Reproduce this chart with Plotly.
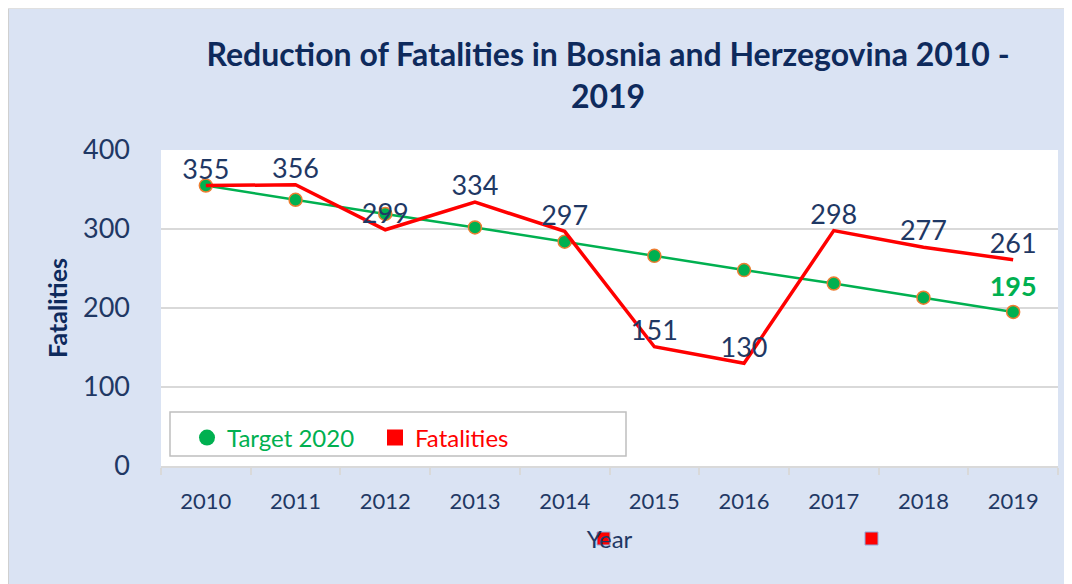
import plotly.graph_objects as go

years = ["2010", "2011", "2012", "2013", "2014", "2015", "2016", "2017", "2018", "2019"]
fatalities = [355, 356, 299, 334, 297, 151, 130, 298, 277, 261]
target_2020 = [355, 337, 319, 302, 284, 266, 248, 231, 213, 195]
y_ticks = [0, 100, 200, 300, 400]

# the page body has an 8px margin, so the figure is drawn 8px in from the window edge
OFF = 8
WIN_W, WIN_H = 1072, 584
W, H = WIN_W - OFF, WIN_H - OFF
PL, PR, PT, PB = 161, 1058, 150, 466          # plot area edges in window pixels
ML, MR, MT, MB = PL - OFF, WIN_W - PR, PT - OFF, WIN_H - PB
PW, PH = PR - PL, PB - PT

def px(x):
    return (x - PL) / PW

def py(y):
    return (PB - y) / PH

NAVY = "#1F3864"
TITLE_NAVY = "#0E2A5C"
GREEN = "#00B050"
RED = "#FF0000"
FONT = "Lato"

fig = go.Figure()

fig.add_trace(go.Scatter(
    x=years, y=target_2020, mode="lines+markers+text",
    line=dict(color=GREEN, width=2.5),
    marker=dict(color=GREEN, size=13, line=dict(color="#ED7D31", width=1.5)),
    text=[""] * (len(years) - 1) + [str(target_2020[-1])],
    textposition="top center",
    textfont=dict(family=FONT, size=27, color=GREEN, weight="bold"),
    showlegend=False, cliponaxis=False,
))
fig.add_trace(go.Scatter(
    x=years, y=fatalities, mode="lines+text",
    line=dict(color=RED, width=3.5),
    text=[str(v) for v in fatalities],
    textposition="top center",
    textfont=dict(family=FONT, size=27, color=NAVY),
    showlegend=False, cliponaxis=False,
))
# legend entries
fig.add_trace(go.Scatter(
    x=[None], y=[None], mode="markers",
    marker=dict(color=GREEN, size=20, symbol="circle"),
    name="<span style='color:%s'>Target 2020</span>" % GREEN,
))
fig.add_trace(go.Scatter(
    x=[None], y=[None], mode="markers",
    marker=dict(color=RED, size=18, symbol="square"),
    name="<span style='color:%s'>Fatalities</span>" % RED,
))

shapes = [
    # outer chart border
    dict(type="line", xref="paper", yref="paper", x0=px(OFF), x1=px(OFF), y0=py(OFF), y1=py(WIN_H + 5),
         line=dict(color="#D0D0D0", width=2)),
    dict(type="line", xref="paper", yref="paper", x0=px(OFF), x1=px(WIN_W + 5), y0=py(OFF), y1=py(OFF),
         line=dict(color="#E0E0E0", width=2)),
    # legend box
    dict(type="rect", xref="paper", yref="paper", x0=px(170), x1=px(626), y0=py(456), y1=py(412),
         fillcolor="white", line=dict(color="#BFBFBF", width=1.5), layer="above"),
    # stray markers
    dict(type="rect", xref="paper", yref="paper", x0=px(597), x1=px(610), y0=py(545), y1=py(532),
         fillcolor=RED, line=dict(color="#8FAADC", width=1)),
    dict(type="rect", xref="paper", yref="paper", x0=px(865), x1=px(878), y0=py(545), y1=py(532),
         fillcolor=RED, line=dict(color="#8FAADC", width=1)),
]

fig.update_layout(
    width=W, height=H,
    margin=dict(l=ML, r=MR, t=MT, b=MB),
    paper_bgcolor="#DAE3F3", plot_bgcolor="white",
    font=dict(family=FONT, color=NAVY),
    title=dict(
        text="Reduction of Fatalities in Bosnia and Herzegovina 2010 -<br>2019",
        x=(608 - OFF) / W, xanchor="center", y=1 - (66 - OFF) / H, yanchor="middle",
        font=dict(family=FONT, size=32, color=TITLE_NAVY, weight="bold"),
    ),
    xaxis=dict(
        type="category", range=[-0.5, len(years) - 0.5],
        showgrid=False, showline=True, linecolor="#D9D9D9", linewidth=1.5,
        ticks="outside", tickson="boundaries", ticklen=7, tickcolor="#D9D9D9", tickwidth=1.5,
        tickfont=dict(family=FONT, size=22, color=NAVY),
        ticklabelstandoff=15,
        title=dict(text="Year", font=dict(family=FONT, size=24, color=NAVY), standoff=18),
    ),
    yaxis=dict(
        range=[0, 400], tickvals=y_ticks,
        showgrid=True, gridcolor="#D9D9D9", gridwidth=1.5, zeroline=False,
        tickfont=dict(family=FONT, size=27, color=NAVY),
        ticklabelstandoff=30,
        title=dict(text="Fatalities", font=dict(family=FONT, size=25, color=TITLE_NAVY, weight="bold"),
                   standoff=8),
    ),
    legend=dict(
        orientation="h", x=px(187), y=py(438), xanchor="left", yanchor="middle",
        bgcolor="rgba(0,0,0,0)", borderwidth=0,
        font=dict(family=FONT, size=24),
        itemsizing="trace", traceorder="normal",
        entrywidth=143, entrywidthmode="pixels",
    ),
    shapes=shapes,
)

fig.write_html("out.html")
